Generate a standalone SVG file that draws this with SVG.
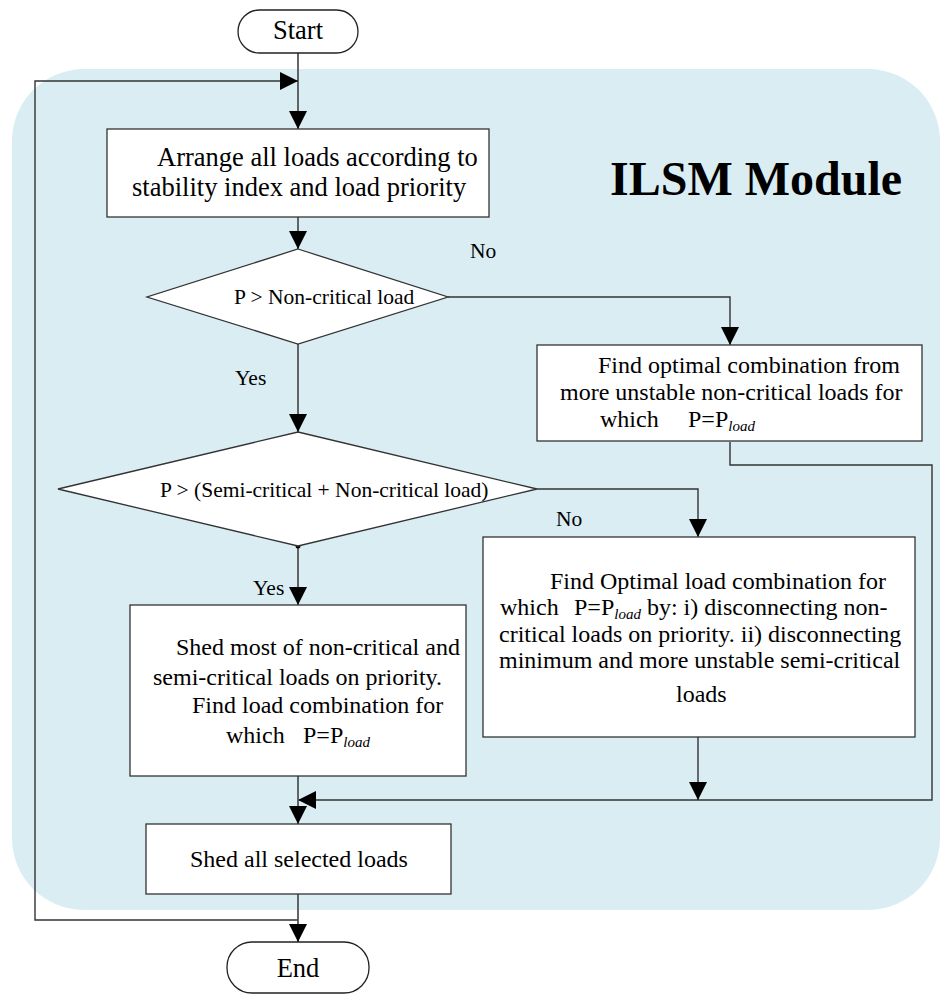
<svg xmlns="http://www.w3.org/2000/svg" width="942" height="994" viewBox="0 0 942 994">
  <defs>
    <marker id="arrow" markerUnits="userSpaceOnUse" markerWidth="19" markerHeight="18" refX="18" refY="9" orient="auto">
      <path d="M0,0 L18,9 L0,18 Z" fill="#000"/>
    </marker>
    <style>
      text { font-family: "Liberation Serif", "Times New Roman", serif; fill: #000; }
      .box { fill: #fff; stroke: #333; stroke-width: 1.3; }
      .term { fill: #fff; stroke: #222; stroke-width: 1.3; }
      .t24 { font-size: 24px; }
      .t26 { font-size: 26.5px; }
      .t21 { font-size: 21.5px; }
      .sub { font-size: 15px; font-style: italic; }
      .wire { fill: none; stroke: #333; stroke-width: 1.4; }
      .wire-v { fill: none; stroke: #555; stroke-width: 1.8; }
    </style>
  </defs>

  <!-- module background panel -->
  <rect id="module-panel" x="12" y="69" width="928" height="841" rx="72" ry="72" fill="#daedf3"/>
  <text x="610" y="195" style="font-size:48px;font-weight:bold">ILSM Module</text>

  <!-- connectors -->
  <g id="connectors">
    <path class="wire-v" d="M298,53 V129" marker-end="url(#arrow)"/>
    <path class="wire" d="M298,920 H35 V81 H298" marker-end="url(#arrow)"/>
    <path class="wire-v" d="M298,217 V249" marker-end="url(#arrow)"/>
    <path class="wire" d="M448,297 H730 V345" marker-end="url(#arrow)"/>
    <path class="wire-v" d="M298,344 V432" marker-end="url(#arrow)"/>
    <path class="wire" d="M730,442 V465 H932 V800 H298" marker-end="url(#arrow)"/>
    <path class="wire" d="M537,489 H698 V537" marker-end="url(#arrow)"/>
    <path class="wire-v" d="M298,546 V605" marker-end="url(#arrow)"/>
    <circle cx="298" cy="546" r="2.5" fill="#000"/>
    <path class="wire-v" d="M298,776 V824" marker-end="url(#arrow)"/>
    <path class="wire" d="M698,737 V800" marker-end="url(#arrow)"/>
    <path class="wire-v" d="M298,894 V942" marker-end="url(#arrow)"/>
    <text class="t21" x="470" y="258">No</text>
    <text class="t21" x="235" y="385">Yes</text>
    <text class="t21" x="556" y="526">No</text>
    <text class="t21" x="253" y="595">Yes</text>
  </g>

  <g id="start">
    <rect class="term" x="238" y="10" width="120" height="43" rx="21.5" ry="21.5"/>
    <text class="t26" x="298" y="39" text-anchor="middle">Start</text>
  </g>

  <g id="arrange">
    <rect class="box" x="107" y="129" width="382" height="88"/>
    <text class="t26" x="157" y="166">Arrange all loads according to</text>
    <text class="t26" x="132" y="196">stability index and load priority</text>
  </g>

  <g id="check-noncritical">
    <polygon class="box" points="298,249 448,297 298,344 147,297"/>
    <text class="t21" x="234" y="304">P &gt; Non-critical load</text>
  </g>

  <g id="optimal-noncritical">
    <rect class="box" x="537" y="345" width="385" height="96"/>
    <text class="t24" x="598" y="373">Find optimal combination from</text>
    <text class="t24" x="560" y="400">more unstable non-critical loads for</text>
    <text class="t24" x="600" y="427">which<tspan x="688">P=P</tspan><tspan class="sub" dy="4">load</tspan></text>
  </g>

  <g id="check-semicritical">
    <polygon class="box" points="298,432 537,489 298,546 58,489"/>
    <text class="t21" x="160" y="497">P &gt; (Semi-critical + Non-critical load)</text>
  </g>

  <g id="optimal-combination">
    <rect class="box" x="483" y="537" width="432" height="200"/>
    <text class="t24" x="550" y="589">Find Optimal load combination for</text>
    <text class="t24" x="500" y="615">which<tspan x="574">P=P</tspan><tspan class="sub" dy="4">load</tspan><tspan dy="-4"> by: i) disconnecting non-</tspan></text>
    <text class="t24" x="499" y="642">critical loads on priority. ii) disconnecting</text>
    <text class="t24" x="499" y="668">minimum and more unstable semi-critical</text>
    <text class="t24" x="676" y="702">loads</text>
  </g>

  <g id="shed-most">
    <rect class="box" x="130" y="605" width="336" height="171"/>
    <text class="t24" x="176" y="655">Shed most of non-critical and</text>
    <text class="t24" x="153" y="685">semi-critical loads on priority.</text>
    <text class="t24" x="192" y="713">Find load combination for</text>
    <text class="t24" x="226" y="743">which<tspan x="303">P=P</tspan><tspan class="sub" dy="4">load</tspan></text>
  </g>

  <g id="shed-selected">
    <rect class="box" x="146" y="824" width="305" height="70"/>
    <text class="t24" x="190" y="867">Shed all selected loads</text>
  </g>

  <g id="end">
    <rect class="term" x="227" y="942" width="142" height="51" rx="25" ry="25"/>
    <text class="t26" x="298" y="977" text-anchor="middle">End</text>
  </g>
</svg>
